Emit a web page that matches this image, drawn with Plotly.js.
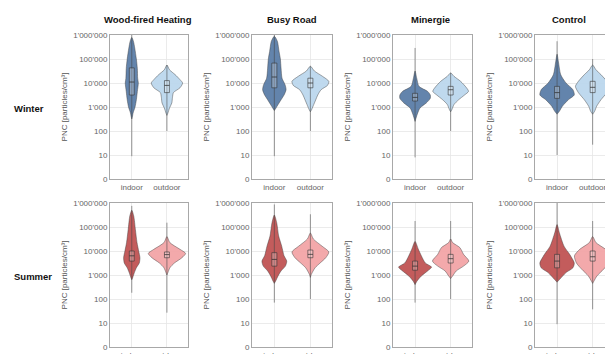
<!DOCTYPE html>
<html><head><meta charset="utf-8">
<script src="https://cdn.plot.ly/plotly-3.0.1.min.js"></script>
<style>html,body{margin:0;padding:0;overflow:hidden;background:#fff;width:605px;height:354px}#chart{width:620px;height:362px}</style>
</head><body><div id="chart"></div><script>
// ---- categories / labels ----
const sites = ["Wood-fired Heating", "Busy Road", "Minergie", "Control"];
const seasons = ["Winter", "Summer"];
const locations = ["indoor", "outdoor"];
const yTickVals = [1, 10, 100, 1000, 10000, 100000, 1000000];
const yTickText = ["0", "10", "100", "1'000", "10'000", "100'000", "1'000'000"];

// ---- violin profiles: lev = log10(PNC) levels, den = relative density (half-width) ----
// rng = [min, max] log10(PNC); box = [q1, median, q3] log10(PNC)
// Winter
const wWoodIn_lev  = [5.9, 5.74, 5.46, 5.0, 4.6, 4.2, 4.0, 3.65, 3.3, 3.0, 2.75, 2.6, 2.5];
const wWoodIn_den  = [0, 5, 9, 14, 17, 18, 20, 17, 14, 10, 4, 2, 0];
const wWoodIn_rng  = [0.95, 6.0];
const wWoodIn_box  = [3.5, 4.04, 4.63];
const wWoodOut_lev = [4.75, 4.55, 4.35, 4.14, 4.0, 3.8, 3.6, 3.4, 3.17, 2.96, 2.75, 2.65];
const wWoodOut_den = [0, 8, 25, 40, 48, 40, 20, 17, 15, 8, 3, 0];
const wWoodOut_rng = [2.0, 4.75];
const wWoodOut_box = [3.6, 3.9, 4.1];

const wRoadIn_lev  = [5.95, 5.74, 5.32, 5.0, 4.62, 4.2, 3.93, 3.72, 3.5, 3.3, 3.12, 2.96, 2.85];
const wRoadIn_den  = [0, 9, 14, 18, 20, 23, 32, 35, 29, 20, 12, 5, 0];
const wRoadIn_rng  = [0.95, 6.0];
const wRoadIn_box  = [3.8, 4.25, 4.83];
const wRoadOut_lev = [4.7, 4.5, 4.28, 4.07, 3.9, 3.72, 3.5, 3.3, 3.1, 2.9, 2.8];
const wRoadOut_den = [0, 12, 36, 55, 51, 32, 22, 16, 10, 4, 0];
const wRoadOut_rng = [2.0, 4.7];
const wRoadOut_box = [3.8, 4.0, 4.2];

const wMinIn_lev   = [4.5, 4.2, 3.86, 3.65, 3.5, 3.36, 3.17, 2.96, 2.75, 2.54, 2.4];
const wMinIn_den   = [0, 5, 12, 38, 46, 46, 34, 15, 8, 3, 0];
const wMinIn_rng   = [0.9, 5.46];
const wMinIn_box   = [3.25, 3.4, 3.57];
const wMinOut_lev  = [4.42, 4.28, 4.07, 3.8, 3.65, 3.5, 3.3, 3.1, 2.9, 2.8];
const wMinOut_den  = [0, 10, 30, 48, 54, 42, 24, 10, 4, 0];
const wMinOut_rng  = [2.0, 4.42];
const wMinOut_box  = [3.5, 3.72, 3.86];

const wCtlIn_lev   = [5.2, 4.9, 4.35, 4.0, 3.72, 3.5, 3.3, 3.03, 2.82, 2.7];
const wCtlIn_den   = [0, 4, 11, 27, 48, 52, 34, 16, 7, 0];
const wCtlIn_rng   = [1.0, 5.74];
const wCtlIn_box   = [3.36, 3.6, 3.86];
const wCtlOut_lev  = [4.75, 4.55, 4.35, 4.07, 3.86, 3.6, 3.3, 3.03, 2.82, 2.7];
const wCtlOut_den  = [0, 10, 25, 43, 52, 43, 25, 12, 6, 0];
const wCtlOut_rng  = [1.43, 5.0];
const wCtlOut_box  = [3.6, 3.82, 4.07];

// Summer
const sWoodIn_lev  = [5.7, 5.46, 4.9, 4.35, 4.0, 3.72, 3.5, 3.3, 3.1, 2.9, 2.8];
const sWoodIn_den  = [0, 6, 11, 16, 21, 25, 23, 14, 8, 3, 0];
const sWoodIn_rng  = [2.26, 5.88];
const sWoodIn_box  = [3.58, 3.8, 4.0];
const sWoodOut_lev = [4.6, 4.35, 4.07, 3.9, 3.72, 3.5, 3.3, 3.1, 3.0];
const sWoodOut_den = [0, 9, 40, 57, 46, 23, 9, 3, 0];
const sWoodOut_rng = [1.43, 5.18];
const sWoodOut_box = [3.72, 3.85, 3.96];

const sRoadIn_lev  = [5.5, 5.18, 4.62, 4.2, 3.8, 3.58, 3.37, 3.17, 2.96, 2.75, 2.65];
const sRoadIn_den  = [0, 7, 13, 22, 29, 37, 33, 20, 11, 4, 0];
const sRoadIn_rng  = [1.85, 5.94];
const sRoadIn_box  = [3.37, 3.65, 3.93];
const sRoadOut_lev = [4.75, 4.5, 4.2, 3.96, 3.72, 3.5, 3.3, 3.03, 2.9];
const sRoadOut_den = [0, 9, 35, 55, 46, 29, 14, 3, 0];
const sRoadOut_rng = [2.0, 5.53];
const sRoadOut_box = [3.72, 3.86, 4.04];

const sMinIn_lev   = [4.4, 4.07, 3.8, 3.5, 3.33, 3.17, 2.96, 2.75, 2.6];
const sMinIn_den   = [0, 10, 19, 31, 50, 38, 19, 6, 0];
const sMinIn_rng   = [1.85, 5.25];
const sMinIn_box   = [3.2, 3.37, 3.58];
const sMinOut_lev  = [4.5, 4.35, 4.14, 3.86, 3.58, 3.37, 3.17, 2.96, 2.85];
const sMinOut_den  = [0, 6, 28, 39, 55, 39, 17, 6, 0];
const sMinOut_rng  = [2.0, 5.25];
const sMinOut_box  = [3.5, 3.68, 3.86];

const sCtlIn_lev   = [5.1, 4.76, 4.2, 3.86, 3.5, 3.3, 3.1, 2.82, 2.7];
const sCtlIn_den   = [0, 7, 21, 38, 52, 48, 27, 8, 0];
const sCtlIn_rng   = [0.95, 6.0];
const sCtlIn_box   = [3.3, 3.58, 3.86];
const sCtlOut_lev  = [4.6, 4.35, 4.07, 3.8, 3.5, 3.24, 2.96, 2.75, 2.65];
const sCtlOut_den  = [0, 10, 39, 55, 49, 33, 13, 4, 0];
const sCtlOut_rng  = [1.57, 5.25];
const sCtlOut_box  = [3.58, 3.76, 4.0];

const violins = [
  // winter row
  [[wWoodIn_lev, wWoodIn_den, wWoodIn_rng, wWoodIn_box], [wWoodOut_lev, wWoodOut_den, wWoodOut_rng, wWoodOut_box]],
  [[wRoadIn_lev, wRoadIn_den, wRoadIn_rng, wRoadIn_box], [wRoadOut_lev, wRoadOut_den, wRoadOut_rng, wRoadOut_box]],
  [[wMinIn_lev, wMinIn_den, wMinIn_rng, wMinIn_box], [wMinOut_lev, wMinOut_den, wMinOut_rng, wMinOut_box]],
  [[wCtlIn_lev, wCtlIn_den, wCtlIn_rng, wCtlIn_box], [wCtlOut_lev, wCtlOut_den, wCtlOut_rng, wCtlOut_box]],
  // summer row
  [[sWoodIn_lev, sWoodIn_den, sWoodIn_rng, sWoodIn_box], [sWoodOut_lev, sWoodOut_den, sWoodOut_rng, sWoodOut_box]],
  [[sRoadIn_lev, sRoadIn_den, sRoadIn_rng, sRoadIn_box], [sRoadOut_lev, sRoadOut_den, sRoadOut_rng, sRoadOut_box]],
  [[sMinIn_lev, sMinIn_den, sMinIn_rng, sMinIn_box], [sMinOut_lev, sMinOut_den, sMinOut_rng, sMinOut_box]],
  [[sCtlIn_lev, sCtlIn_den, sCtlIn_rng, sCtlIn_box], [sCtlOut_lev, sCtlOut_den, sCtlOut_rng, sCtlOut_box]]
];

// ---- styling ----
const W = 620, H = 362;
const colPx = [[110, 188], [252, 332], [393, 472], [535, 614]];
const rowPx = [[35, 179], [203, 347]];
const titleX = [148, 292, 430, 569];
const fills = [["rgba(86,121,165,0.92)", "rgba(186,214,237,0.92)"],
               ["rgba(190,78,78,0.92)", "rgba(242,162,164,0.92)"]];
const DENS_SCALE = 0.0093;
const BOX_HW = 0.07;
const FONT = "Liberation Sans, Arial, sans-serif";

const traces = [];
const layout = {
  width: W, height: H,
  margin: {l: 0, r: 0, t: 0, b: 0},
  paper_bgcolor: "#fff", plot_bgcolor: "#fff",
  showlegend: false,
  font: {family: FONT, size: 8, color: "#666"},
  annotations: []
};

for (let r = 0; r < 2; r++) {
  for (let c = 0; c < 4; c++) {
    const idx = r * 4 + c + 1;
    const xa = "x" + (idx === 1 ? "" : idx), ya = "y" + (idx === 1 ? "" : idx);
    const xk = "xaxis" + (idx === 1 ? "" : idx), yk = "yaxis" + (idx === 1 ? "" : idx);
    layout[xk] = {
      domain: [colPx[c][0] / W, colPx[c][1] / W], anchor: ya,
      range: [-0.62, 1.6], tickvals: [0, 1], ticktext: locations,
      showgrid: true, gridcolor: "#e6e6e6", gridwidth: 0.8, zeroline: false,
      showline: true, mirror: true, linecolor: "#a8a8a8", linewidth: 1,
      ticks: "", tickfont: {size: 8, color: "#666"}, fixedrange: true
    };
    layout[yk] = {
      domain: [1 - rowPx[r][1] / H, 1 - rowPx[r][0] / H], anchor: xa,
      type: "log", range: [0, 6], tickvals: yTickVals, ticktext: yTickText,
      showgrid: true, gridcolor: "#e6e6e6", gridwidth: 0.8, zeroline: false,
      showline: true, mirror: true, linecolor: "#a8a8a8", linewidth: 1,
      ticks: "", tickfont: {size: 8, color: "#666"},
      title: {text: "PNC [particles/cm³]", font: {size: 8, color: "#555"}, standoff: 4}
    };
    const pair = violins[r * 4 + c];
    for (let k = 0; k < 2; k++) {
      const [lev, den, rng, box] = pair[k];
      const xs = [], ys = [];
      for (let i = 0; i < lev.length; i++) { xs.push(k + den[i] * DENS_SCALE); ys.push(Math.pow(10, lev[i])); }
      for (let i = lev.length - 1; i >= 0; i--) { xs.push(k - den[i] * DENS_SCALE); ys.push(Math.pow(10, lev[i])); }
      traces.push({type: "scatter", mode: "lines", x: xs, y: ys, xaxis: xa, yaxis: ya,
        fill: "toself", fillcolor: fills[r][k], line: {color: "rgba(60,60,60,0.75)", width: 0.6, shape: "spline", smoothing: 0.7},
        hoverinfo: "skip"});
      traces.push({type: "scatter", mode: "lines", x: [k, k], y: [Math.pow(10, rng[0]), Math.pow(10, rng[1])],
        xaxis: xa, yaxis: ya, line: {color: "rgba(70,70,70,0.8)", width: 0.7}, hoverinfo: "skip"});
      const q1 = Math.pow(10, box[0]), md = Math.pow(10, box[1]), q3 = Math.pow(10, box[2]);
      traces.push({type: "scatter", mode: "lines", x: [k - BOX_HW, k + BOX_HW, k + BOX_HW, k - BOX_HW, k - BOX_HW],
        y: [q1, q1, q3, q3, q1], xaxis: xa, yaxis: ya, fill: "toself", fillcolor: "rgba(255,255,255,0.25)",
        line: {color: "rgba(50,50,50,0.85)", width: 0.7}, hoverinfo: "skip"});
      traces.push({type: "scatter", mode: "lines", x: [k - BOX_HW, k + BOX_HW], y: [md, md],
        xaxis: xa, yaxis: ya, line: {color: "rgba(40,40,40,0.9)", width: 0.8}, hoverinfo: "skip"});
    }
  }
}

sites.forEach((s, c) => layout.annotations.push({
  text: "<b>" + s + "</b>", x: titleX[c] / W, y: 1 - 19 / H, xref: "paper", yref: "paper",
  xanchor: "center", yanchor: "middle", showarrow: false, font: {family: FONT, size: 9.5, color: "#111"}
}));
const rowY = [108, 276];
seasons.forEach((s, r) => layout.annotations.push({
  text: "<b>" + s + "</b>", x: 12 / W, y: 1 - rowY[r] / H, xref: "paper", yref: "paper",
  xanchor: "left", yanchor: "middle", showarrow: false, font: {family: FONT, size: 9.5, color: "#111"}
}));

Plotly.newPlot("chart", traces, layout, {staticPlot: true, displayModeBar: false});
</script></body></html>
